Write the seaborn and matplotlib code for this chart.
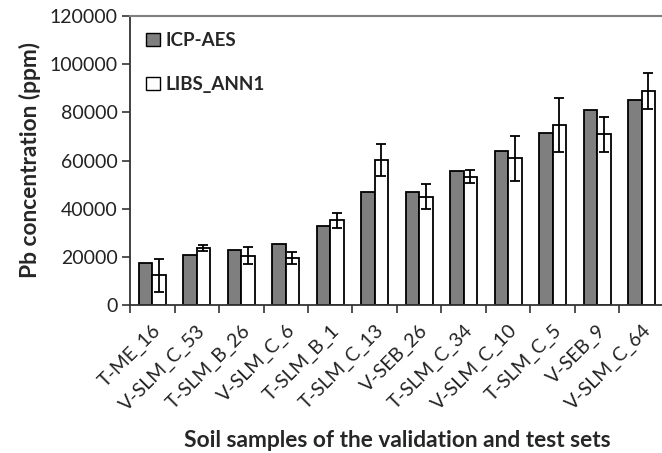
import numpy as np
import pandas as pd
import matplotlib
matplotlib.use("Agg")
import matplotlib.pyplot as plt
import seaborn as sns
from matplotlib.patches import Patch

samples = ["T-ME_16", "V-SLM_C_53", "T-SLM_B_26", "V-SLM_C_6", "T-SLM_B_1", "T-SLM_C_13",
           "V-SEB_26", "T-SLM_C_34", "V-SLM_C_10", "T-SLM_C_5", "V-SEB_9", "V-SLM_C_64"]
icp_aes = [17300, 20800, 22800, 25200, 32700, 46800, 46900, 55800, 64100, 71400, 80800, 85000]
libs_ann1 = [12300, 23800, 20500, 19400, 35200, 60100, 44900, 53200, 60900, 74900, 70900, 88900]
libs_err = [7000, 1300, 3500, 2500, 3100, 6600, 5200, 2700, 9300, 11200, 7200, 7600]
series = ["ICP-AES", "LIBS_ANN1"]
yticks = [0, 20000, 40000, 60000, 80000, 100000, 120000]

df = pd.DataFrame({
    "sample": samples * 2,
    "method": [series[0]] * len(samples) + [series[1]] * len(samples),
    "value": icp_aes + libs_ann1,
})

sns.set_theme(style="white")
plt.rcParams["font.family"] = ["Lato", "DejaVu Sans"]

fig = plt.figure(figsize=(6.62, 4.53), dpi=100)
ax = fig.add_axes([130 / 662, 1 - 305 / 453, 534 / 662, 289 / 453])

colors = {"ICP-AES": "#7f7f7f", "LIBS_ANN1": "#ffffff"}
sns.barplot(data=df, x="sample", y="value", hue="method", order=samples,
            hue_order=series, palette=colors, width=0.6, gap=0,
            edgecolor="black", linewidth=1.3, errorbar=None, legend=False, ax=ax)

# error bars on LIBS bars
libs_patches = ax.patches[len(samples):2 * len(samples)]
xs = [p.get_x() + p.get_width() / 2 for p in libs_patches]
ax.errorbar(xs, libs_ann1, yerr=libs_err, fmt="none", ecolor="black",
            elinewidth=1.3, capsize=3.5, capthick=1.3)

ax.set_ylim(0, 120000)
ax.set_xlim(-0.5, len(samples) - 0.5)
ax.set_yticks(yticks)
ax.set_yticklabels([str(v) for v in yticks], fontsize=14, color="#222222")

ax.set_xticks(range(len(samples)))
ax.set_xticklabels(samples, rotation=45, ha="right", rotation_mode="anchor",
                   fontsize=14, color="#222222")
ax.set_xticks(np.arange(-0.5, len(samples) - 0.4, 1.0), minor=True)
ax.tick_params(axis="x", which="major", length=0, pad=12)
ax.tick_params(axis="x", which="minor", length=6, width=1.2, color="#333333", direction="out", bottom=True)
ax.tick_params(axis="y", length=6, width=1.2, color="#333333", direction="out", left=True, pad=3)

for s in ["left", "bottom"]:
    ax.spines[s].set_color("#333333")
    ax.spines[s].set_linewidth(1.3)
ax.spines["right"].set_visible(False)
ax.spines["top"].set_color("#7f7f7f")
ax.spines["top"].set_linewidth(1.5)

ax.set_xlabel("Soil samples of the validation and test sets", fontsize=16.4,
              fontweight="bold", labelpad=12)
ax.set_ylabel("Pb concentration (ppm)", fontsize=16.4, fontweight="bold", labelpad=6)

handles = [Patch(facecolor=colors[s], edgecolor="black", linewidth=1.0) for s in series]
leg = ax.legend(handles, series, loc="upper left", bbox_to_anchor=(0.0, 1.0),
                frameon=False, prop={"weight": "bold", "size": 13.5},
                handlelength=0.75, handleheight=0.75, handletextpad=0.3,
                labelspacing=1.45, borderaxespad=0.45)

fig.savefig("out.png", dpi=100)
